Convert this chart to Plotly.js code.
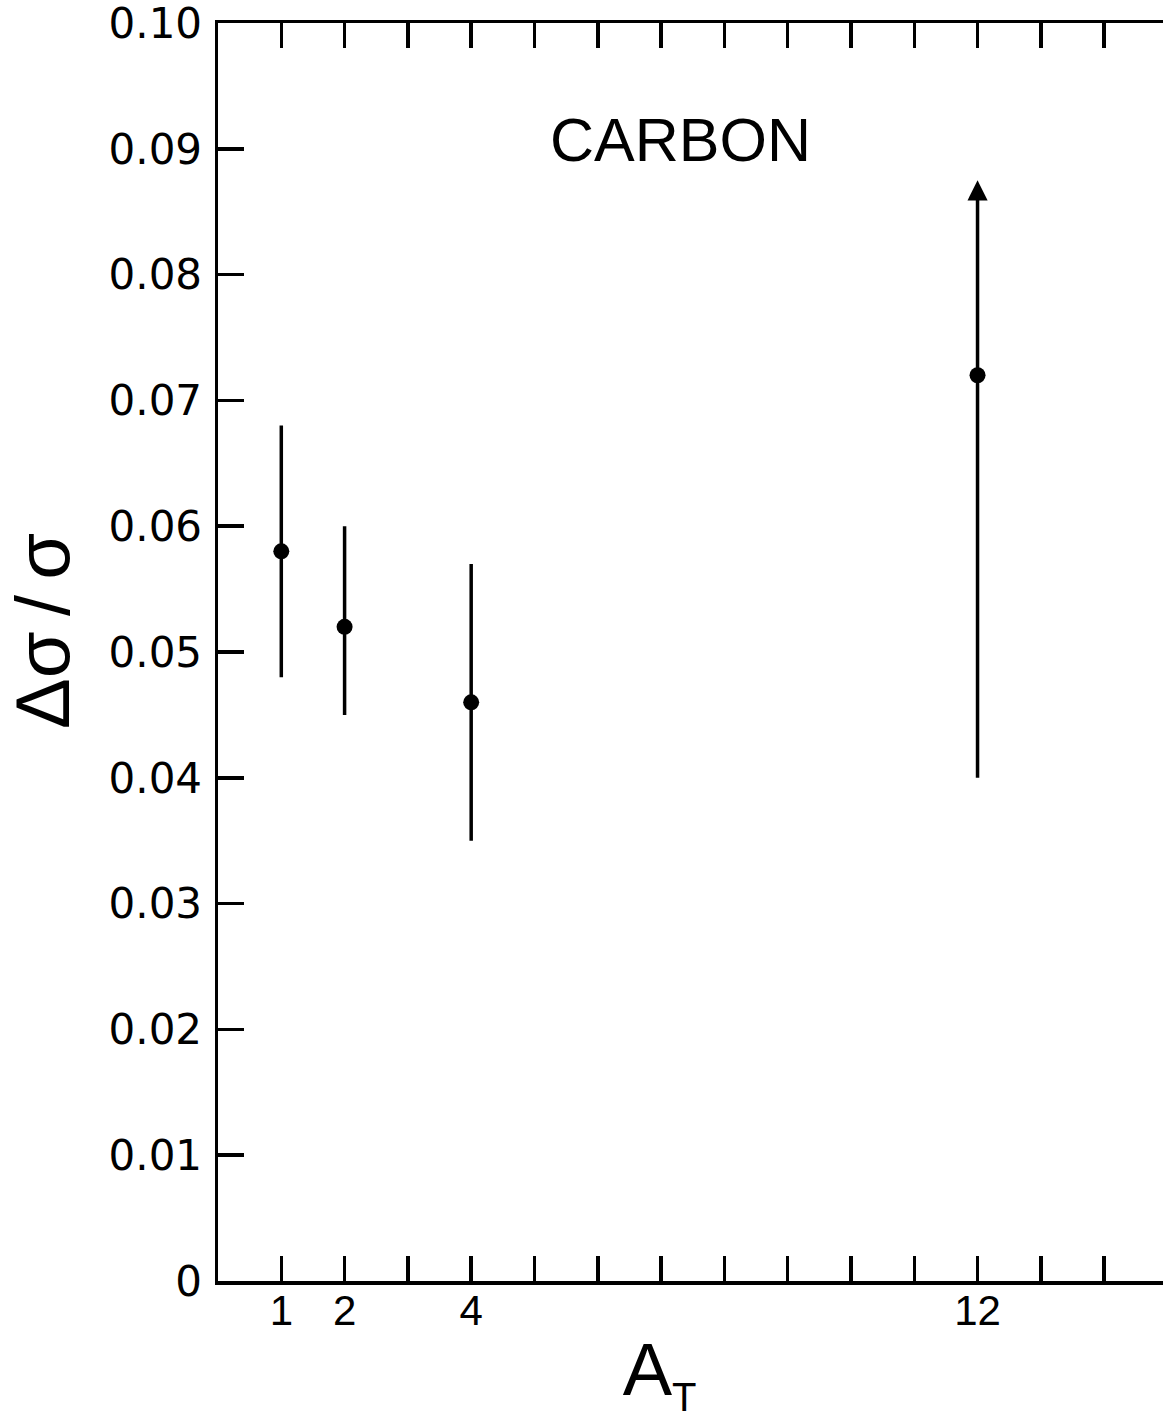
<!DOCTYPE html>
<html>
<head>
<meta charset="utf-8">
<script src="https://cdn.plot.ly/plotly-3.0.1.min.js"></script>
<style>
  html, body { margin: 0; padding: 0; background: #fff; }
  #chart { width: 1163px; height: 1419px; }
</style>
</head>
<body>
<div id="chart"></div>
<script>
// ---- data ----
const targetMass = [1, 2, 4, 12];                 // A_T
const deltaSigmaOverSigma = [0.058, 0.052, 0.046, 0.072];
const upperBound = [0.068, 0.060, 0.057, 0.0875];
const lowerBound = [0.048, 0.045, 0.035, 0.040];
const upperIsArrow = [false, false, false, true];  // open-ended upper error (arrow)

const xTickVals = [1, 2, 3, 4, 5, 6, 7, 8, 9, 10, 11, 12, 13, 14];
const xTickText = ['1', '2', '', '4', '', '', '', '', '', '', '', '12', '', ''];
const yTickVals = [0, 0.01, 0.02, 0.03, 0.04, 0.05, 0.06, 0.07, 0.08, 0.09, 0.10];
const yTickText = ['0', '0.01', '0.02', '0.03', '0.04', '0.05', '0.06', '0.07', '0.08', '0.09', '0.10'];

const panelLabel = 'CARBON';
// trailing/leading no-break spaces (kept by a zero-width char) nudge the titles to the reference position
const xTitle = 'A<sub><span style="font-size:40px">T</span></sub>\u00a0\u00a0\u00a0\u200B';
const yTitle = '\u200B\u00a0\u00a0Δσ\u2009/\u2009σ';

// ---- derived ----
const errPlus = deltaSigmaOverSigma.map((v, i) => upperIsArrow[i] ? 0 : upperBound[i] - v);
const errMinus = deltaSigmaOverSigma.map((v, i) => v - lowerBound[i]);

const numFont = 'Liberation Sans, Arial, sans-serif';
const yNumFont = 'DejaVu Sans, sans-serif';

const trace = {
  type: 'scatter',
  mode: 'markers',
  x: targetMass,
  y: deltaSigmaOverSigma,
  marker: { color: '#000', size: 16, symbol: 'circle' },
  error_y: {
    type: 'data',
    symmetric: false,
    array: errPlus,
    arrayminus: errMinus,
    thickness: 3.5,
    width: 0,
    color: '#000'
  },
  showlegend: false,
  hoverinfo: 'x+y'
};

const arrowAnnotations = [];
targetMass.forEach((x, i) => {
  if (upperIsArrow[i]) {
    arrowAnnotations.push({
      x: x, y: upperBound[i], xref: 'x', yref: 'y',
      ax: x, ay: deltaSigmaOverSigma[i], axref: 'x', ayref: 'y',
      text: '', showarrow: true,
      arrowhead: 2, arrowsize: 1.15, arrowwidth: 3.5, arrowcolor: '#000',
      standoff: 0, startstandoff: 0
    });
  }
});

const layout = {
  width: 1163,
  height: 1419,
  margin: { l: 218, r: 0, t: 23, b: 138, pad: 0 },
  paper_bgcolor: '#fff',
  plot_bgcolor: '#fff',
  font: { family: numFont, color: '#000' },
  xaxis: {
    range: [0, 14.93],
    tickmode: 'array',
    tickvals: xTickVals,
    ticktext: xTickText,
    ticks: 'inside',
    ticklen: 25,
    tickwidth: 3.5,
    tickcolor: '#000',
    showline: true,
    linewidth: 3.5,
    linecolor: '#000',
    mirror: 'ticks',
    showgrid: false,
    zeroline: false,
    tickfont: { family: numFont, size: 42, color: '#000' },
    ticklabelstandoff: -10,
    ticklabeloverflow: 'allow',
    title: {
      text: xTitle,
      font: { family: numFont, size: 74, color: '#000' },
      standoff: 14
    }
  },
  yaxis: {
    range: [0, 0.10],
    tickmode: 'array',
    tickvals: yTickVals,
    ticktext: yTickText,
    ticks: 'inside',
    ticklen: 26,
    tickwidth: 3.5,
    tickcolor: '#000',
    showline: true,
    linewidth: 3.5,
    linecolor: '#000',
    showgrid: false,
    zeroline: false,
    tickfont: { family: yNumFont, size: 42, color: '#000' },
    ticklabelstandoff: 4,
    ticklabeloverflow: 'allow',
    title: {
      text: yTitle,
      font: { family: numFont, size: 76, color: '#000' },
      standoff: 20
    }
  },
  yaxis2: {
    range: [0, 0.10],
    overlaying: 'y',
    side: 'right',
    anchor: 'x',
    tickmode: 'array',
    tickvals: yTickVals.slice(1),
    ticks: 'inside',
    ticklen: 22,
    tickwidth: 3.5,
    tickcolor: '#000',
    showticklabels: false,
    showline: false,
    showgrid: false,
    zeroline: false
  },
  annotations: [
    {
      text: panelLabel,
      x: 7.3, y: 0.0907, xref: 'x', yref: 'y',
      showarrow: false,
      font: { family: numFont, size: 61, color: '#000' },
      xanchor: 'center', yanchor: 'middle'
    }
  ].concat(arrowAnnotations),
  showlegend: false
};

Plotly.newPlot('chart', [trace], layout, { displayModeBar: false, staticPlot: true });
</script>
</body>
</html>
